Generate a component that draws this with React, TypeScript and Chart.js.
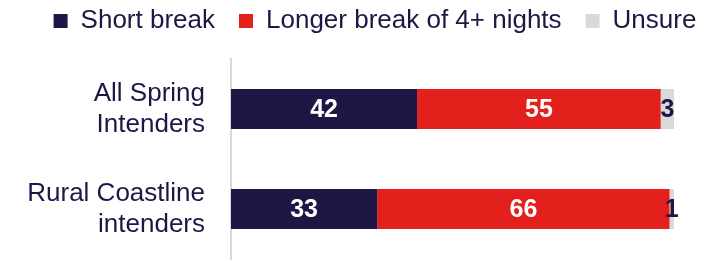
import React, { useEffect, useRef } from "react";
import { Chart, registerables } from "chart.js";

Chart.register(...registerables);

const categories = [
  ["All Spring", "Intenders"],
  ["Rural Coastline", "intenders"],
];
const seriesNames = ["Short break", "Longer break of 4+ nights", "Unsure"];
const shortBreak = [42, 33];
const longerBreak = [55, 66];
const unsure = [3, 1];
const seriesColors = ["#1f1646", "#e3201b", "#d9d9d9"];
const labelColors = ["#ffffff", "#ffffff", "#1f1646"];

const FONT = "'Liberation Sans', Arial, sans-serif";
const NAVY = "#1f1646";

const barLabels = {
  id: "barLabels",
  afterDatasetsDraw(chart: any) {
    const ctx = chart.ctx;
    ctx.save();
    ctx.font = `bold 25px ${FONT}`;
    ctx.textAlign = "center";
    ctx.textBaseline = "middle";
    chart.data.datasets.forEach((ds: any, i: number) => {
      const meta = chart.getDatasetMeta(i);
      meta.data.forEach((bar: any, j: number) => {
        const v = ds.data[j];
        const { x, base, y } = bar.getProps(["x", "base", "y"], true);
        ctx.fillStyle = labelColors[i];
        ctx.fillText(String(v), (x + base) / 2, y + 1);
      });
    });
    ctx.restore();
  },
};

export default function App() {
  const ref = useRef<HTMLCanvasElement | null>(null);

  useEffect(() => {
    if (!ref.current) return;
    Chart.defaults.font.family = FONT;
    const seriesData = [shortBreak, longerBreak, unsure];
    const chart = new Chart(ref.current, {
      type: "bar",
      data: {
        labels: categories as any,
        datasets: seriesNames.map((name, i) => ({
          label: name,
          data: seriesData[i],
          backgroundColor: seriesColors[i],
          borderWidth: 0,
          barPercentage: 0.4,
          categoryPercentage: 1.0,
        })),
      },
      options: {
        indexAxis: "y",
        animation: false,
        responsive: true,
        maintainAspectRatio: false,
        layout: { padding: { top: -16, bottom: 2, left: 27, right: 0 } },
        plugins: {
          tooltip: { enabled: false },
          legend: {
            position: "top",
            labels: {
              boxWidth: 14,
              boxHeight: 14,
              padding: 24,
              color: NAVY,
              font: { size: 26, family: FONT },
            },
          },
        },
        scales: {
          x: {
            stacked: true,
            min: 0,
            max: 100,
            position: "top",
            display: true,
            ticks: { display: false },
            grid: { display: false, drawTicks: false },
            border: { display: false },
            afterFit: (s: any) => {
              s.height = 15;
            },
          },
          y: {
            stacked: true,
            grid: { display: false, drawTicks: false },
            border: { display: true, color: "#d9d9d9", width: 2 },
            ticks: {
              autoSkip: false,
              color: NAVY,
              padding: 26,
              font: { size: 26, family: FONT, lineHeight: 1.2 },
            },
            afterFit: (s: any) => {
              s.width = 204;
              s.paddingTop = 0;
              s.paddingBottom = 0;
            },
          },
          yRight: {
            type: "category",
            position: "right",
            display: true,
            grid: { display: false, drawTicks: false },
            border: { display: false },
            ticks: { display: false },
            afterFit: (s: any) => {
              s.width = 49;
              s.paddingTop = 0;
              s.paddingBottom = 0;
            },
          },
        },
      },
      plugins: [barLabels],
    });
    return () => chart.destroy();
  }, []);

  return (
    <div style={{ position: "absolute", left: 0, top: 0, width: 723, height: 261 }}>
      <canvas ref={ref} />
    </div>
  );
}
